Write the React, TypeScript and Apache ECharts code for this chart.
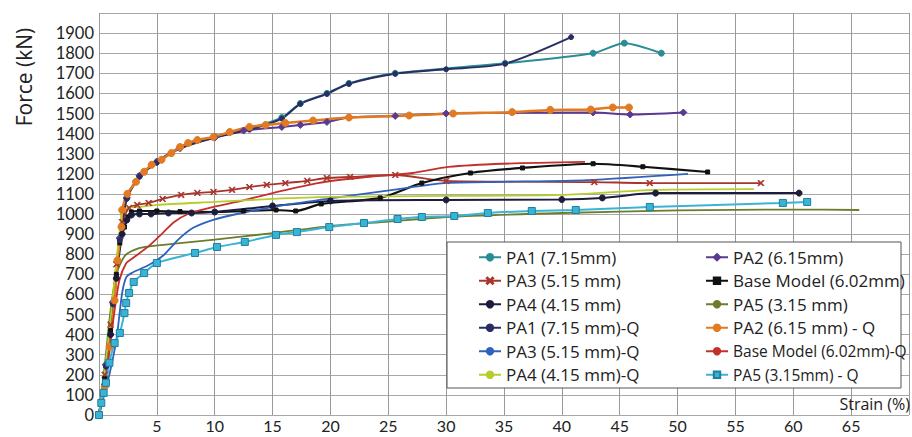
import { useEffect, useRef } from "react";
import * as echarts from "echarts";

const xTicks = [0, 5, 10, 15, 20, 25, 30, 35, 40, 45, 50, 55, 60, 65, 70];

const pa1: number[][] = [[0,0],[0.6,250],[1.2,560],[1.8,880],[2.4,1080],[3.5,1190],[5,1260],[7,1330],[10,1385],[13,1425],[15.8,1480],[17.4,1550],[19.7,1600],[21.6,1650],[25.6,1700],[35.1,1750],[42.7,1800],[45.4,1850],[48.6,1800]];
const pa2: number[][] = [[0,0],[0.6,250],[1.2,560],[1.8,880],[2.4,1080],[3.5,1190],[5,1260],[7,1330],[10,1380],[12.5,1415],[15.8,1433],[17.4,1443],[19.7,1458],[21.6,1480],[25.6,1488],[30,1500],[42.7,1505],[45.9,1495],[50.5,1505]];
const pa3: number[][] = [[0,0],[0.5,200],[1.0,450],[1.5,750],[2.0,960],[2.6,1030],[3.3,1045],[4.3,1055],[5.5,1075],[7.1,1095],[8.5,1105],[9.9,1110],[11.5,1120],[13.0,1134],[14.5,1145],[16.1,1154],[18,1165],[19.7,1179],[21.7,1184],[25.6,1194],[30,1165],[42.8,1159],[47.6,1154],[57.2,1154]];
const baseModel: number[][] = [[0,0],[0.5,180],[1.0,420],[1.5,700],[1.8,856],[2.2,935],[2.5,985],[2.8,1010],[3.5,1015],[5,1015],[7,1012],[10,1010],[12.5,1015],[15.3,1020],[17,1015],[19.2,1050],[24.3,1080],[27.9,1154],[32.1,1204],[36.6,1229],[42.7,1250],[47,1235],[52.6,1209]];
const pa4: number[][] = [[0,0],[0.5,150],[1.0,400],[1.5,680],[2.0,900],[2.4,970],[2.8,995],[3.5,1000],[4.5,1000],[6,1005],[8,1005],[10,1010],[15,1040],[20,1065],[30,1070],[40,1072],[43.5,1080],[48.1,1104],[60.5,1104]];
const pa5: number[][] = [[0,0],[0.5,250],[1.0,520],[1.5,700],[2.2,790],[3.0,820],[4.0,836],[7,855],[10,872],[15,905],[20,940],[25,962],[30,985],[40,1005],[50,1018],[60,1022],[65.7,1020]];
const pa1Q: number[][] = [[0,0],[0.6,240],[1.2,550],[1.8,870],[2.4,1075],[3.5,1185],[5,1255],[7,1325],[10,1380],[13,1420],[15.8,1475],[17.4,1548],[19.7,1598],[21.6,1648],[25.6,1698],[30,1720],[35.1,1748],[40.8,1880]];
const pa2Q: number[][] = [[0,0],[0.5,140],[0.93,340],[1.35,570],[1.6,770],[1.94,935],[2.0,1020],[2.45,1100],[3.2,1160],[3.9,1210],[4.55,1245],[5.4,1270],[6.25,1303],[7.0,1333],[7.7,1353],[8.5,1368],[9.9,1383],[11.3,1408],[13.0,1433],[14.4,1443],[16.1,1453],[18.5,1465],[21.6,1480],[26.8,1490],[30.6,1500],[35.7,1507],[39.0,1518],[42.5,1520],[44.4,1530],[45.8,1530]];
const pa3Q: number[][] = [[0,0],[0.5,110],[0.93,209],[1.5,373],[2.0,607],[2.36,686],[2.8,706],[4.3,746],[5.6,796],[6.8,870],[8.1,930],[9.8,970],[12.3,1005],[16.1,1045],[20.3,1080],[25.4,1120],[29.8,1154],[35,1160],[42.2,1169],[50.9,1200]];
const baseModelQ: number[][] = [[0,0],[0.5,150],[0.93,338],[1.35,522],[1.77,672],[2.36,756],[2.9,780],[4.3,840],[5.5,905],[6.5,960],[7.7,1000],[9.9,1035],[11.9,1060],[15.0,1104],[18.9,1154],[23.1,1184],[27.1,1204],[30.2,1234],[34.9,1250],[42,1259]];
const pa4Q: number[][] = [[0,0],[0.5,220],[1.0,480],[1.5,760],[2.0,1005],[2.45,1030],[3.5,1035],[5,1045],[10,1060],[15,1075],[20,1085],[30,1090],[40,1095],[48,1120],[56.6,1124]];
const pa5Q: number[][] = [[0,0],[0.2,60],[0.4,110],[0.6,160],[0.9,260],[1.35,358],[1.8,408],[2.2,507],[2.35,557],[2.6,607],[3.0,662],[3.9,706],[5.0,756],[8.3,806],[10.2,836],[12.6,861],[15.3,896],[17.1,910],[19.9,935],[22.9,955],[25.8,975],[27.9,985],[30.7,990],[33.6,1005],[37.4,1015],[41.2,1020],[47.6,1035],[59.1,1055],[61.2,1060]];

const names = [
  "PA1 (7.15mm)",
  "PA2 (6.15mm)",
  "PA3 (5.15 mm)",
  "Base Model (6.02mm)",
  "PA4 (4.15 mm)",
  "PA5 (3.15 mm)",
  "PA1 (7.15 mm)-Q",
  "PA2 (6.15 mm) - Q",
  "PA3 (5.15 mm)-Q",
  "Base Model (6.02mm)-Q",
  "PA4 (4.15 mm)-Q",
  "PA5 (3.15mm) - Q",
];
const datasets = [pa1, pa2, pa3, baseModel, pa4, pa5, pa1Q, pa2Q, pa3Q, baseModelQ, pa4Q, pa5Q];

const X_SYMBOL = "path://M0,1 L1,0 L5,4 L9,0 L10,1 L6,5 L10,9 L9,10 L5,6 L1,10 L0,9 L4,5 Z";

const styles = [
  { color: "#2a8c94", symbol: "circle", size: 6, width: 2 },
  { color: "#5a3a92", symbol: "diamond", size: 7, width: 2 },
  { color: "#a8352c", symbol: X_SYMBOL, size: 6, width: 1.8 },
  { color: "#111111", symbol: "rect", size: 4, width: 2.2 },
  { color: "#1c1c3c", symbol: "circle", size: 6, width: 2 },
  { color: "#6b7d2a", symbol: "none", size: 0, width: 1.8 },
  { color: "#2a2d62", symbol: "circle", size: 5, width: 2 },
  { color: "#e27a22", symbol: "circle", size: 7, width: 2.5 },
  { color: "#2f62bd", symbol: "none", size: 0, width: 1.8 },
  { color: "#c4302a", symbol: "none", size: 0, width: 1.8 },
  { color: "#b8cc2e", symbol: "none", size: 0, width: 1.8 },
  { color: "#3ab4d6", symbol: "rect", size: 7, width: 2 },
];

const FONT = "Open Sans";
const TICK_FONT = "Lato";

export default function App() {
  const ref = useRef<HTMLDivElement>(null);
  useEffect(() => {
    if (!ref.current) return;
    const chart = echarts.init(ref.current, undefined, { renderer: "svg" });
    const series = names.map((name, i) => ({
      name,
      type: "line",
      data: datasets[i],
      smooth: 0.25,
      symbol: styles[i].symbol,
      symbolSize: styles[i].size,
      showSymbol: styles[i].symbol !== "none",
      lineStyle: { color: styles[i].color, width: styles[i].width },
      itemStyle: {
        color: styles[i].color,
        borderColor: i === 11 ? "#1f7f9c" : styles[i].color,
        borderWidth: 1,
      },
      emphasis: { disabled: true },
      z: 2,
    }));
    const legendBase = {
      orient: "vertical",
      top: 248,
      itemWidth: 22,
      itemHeight: 8,
      itemGap: 5,
      padding: 0,
      selectedMode: false,
      z: 12,
      textStyle: { fontSize: 17, fontFamily: FONT, color: "#222", lineHeight: 18.5 },
    };
    chart.setOption({
      animation: false,
      backgroundColor: "#ffffff",
      grid: { left: 99, right: -17, top: 13, bottom: 22 },
      xAxis: {
        type: "value",
        min: xTicks[0],
        max: xTicks[xTicks.length - 1],
        interval: 5,
        axisLine: { show: false },
        axisTick: { show: false },
        axisLabel: {
          fontSize: 16,
          lineHeight: 16,
          fontFamily: TICK_FONT,
          color: "#222",
          margin: 2,
          formatter: (v: number) => (v === 0 || v === 70 ? "" : String(v)),
        },
        splitLine: { show: true, lineStyle: { color: "#9a9a9a", width: 1 } },
      },
      yAxis: {
        type: "value",
        min: 0,
        max: 2000,
        interval: 100,
        axisLine: { show: false },
        axisTick: { show: false },
        axisLabel: {
          fontSize: 16.5,
          lineHeight: 17,
          fontFamily: TICK_FONT,
          color: "#222",
          margin: 5,
          formatter: (v: number) => (v === 2000 ? "" : String(v)),
        },
        splitLine: { show: true, lineStyle: { color: "#a8a8a8", width: 1 } },
      },
      legend: [
        {
          ...legendBase,
          left: 478,
          data: [names[0], names[2], names[4], names[6], names[8], names[10]],
        },
        {
          ...legendBase,
          left: 705,
          data: [
            names[1],
            names[3],
            names[5],
            names[7],
            { name: names[9], textStyle: { fontSize: 15.5 } },
            { name: names[11], textStyle: { fontSize: 15.5 } },
          ],
        },
      ],
      graphic: [
        {
          type: "rect",
          z: 10,
          shape: { x: 447, y: 242, width: 454, height: 146 },
          style: { fill: "#ffffff", stroke: "#555555", lineWidth: 1 },
        },
        {
          type: "text",
          x: 24,
          y: 77,
          rotation: Math.PI / 2,
          z: 10,
          style: {
            text: "Force (kN)",
            fontSize: 21,
            fontFamily: FONT,
            fill: "#222",
            align: "center",
            verticalAlign: "middle",
          },
        },
        {
          type: "text",
          x: 910,
          y: 404,
          z: 10,
          style: {
            text: "Strain (%)",
            fontSize: 16,
            fontFamily: FONT,
            fill: "#222",
            align: "right",
            verticalAlign: "middle",
          },
        },
      ],
      series,
    });
    return () => chart.dispose();
  }, []);
  return (
    <div
      ref={ref}
      style={{ position: "absolute", left: 0, top: 0, width: 912, height: 437 }}
    />
  );
}
